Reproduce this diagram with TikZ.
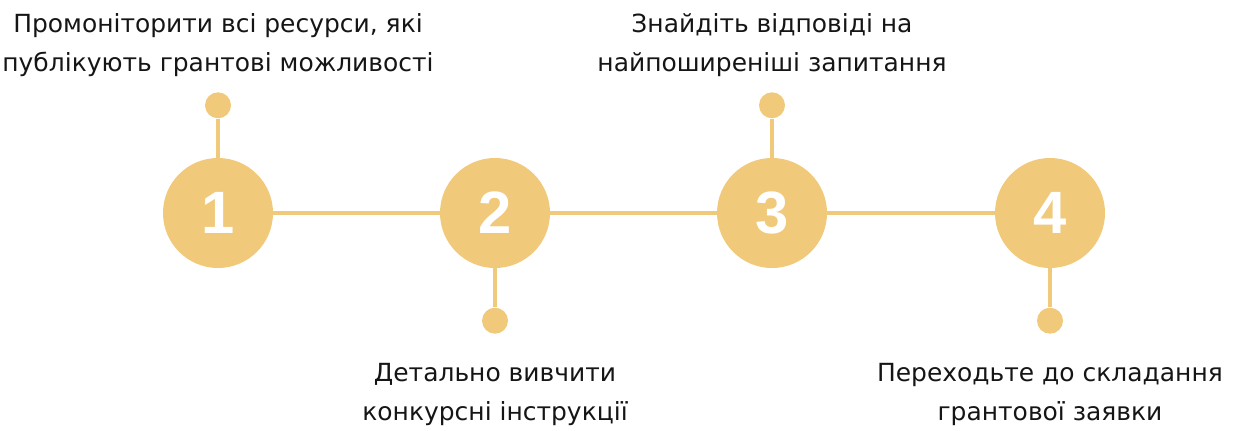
\documentclass[tikz,border=0pt]{standalone}
\usepackage{fontspec}
\setmainfont{DejaVu Sans}
\newfontfamily\numfont{Liberation Sans}
\usepackage{xcolor}
\usepackage{tikz}
\usetikzlibrary{positioning}
\definecolor{goldfill}{HTML}{F1C97B}
\definecolor{inktext}{HTML}{151515}

\begin{document}
\begin{tikzpicture}[
  stepnum/.style={circle,fill=goldfill,minimum size=2.2cm,inner sep=0pt,text=white,font=\numfont\fontsize{34}{34}\selectfont\bfseries},
  pin/.style={circle,fill=goldfill,minimum size=0.52cm,inner sep=0pt},
  caption/.style={align=center,text=inktext,font=\fontsize{14.2}{22.1}\selectfont,inner sep=0pt},
  link/.style={draw=goldfill,line width=2.3pt},
  node distance=0.78cm
]
\useasboundingbox (0,4.26) rectangle (24.8,-4.34);
\node[stepnum] (s1) at (4.36,0) {1};
\node[stepnum] (s2) at (9.90,0) {2};
\node[stepnum] (s3) at (15.44,0) {3};
\node[stepnum] (s4) at (21.0,0) {4};
\node[pin,above=of s1] (d1) {};
\node[pin,below=of s2] (d2) {};
\node[pin,above=of s3] (d3) {};
\node[pin,below=of s4] (d4) {};
\node[caption,above=0.30cm of d1] (t1) {Промоніторити всі ресурси, які\\публікують грантові можливості};
\node[caption,below=0.58cm of d2] (t2) {Детально вивчити\\конкурсні інструкції};
\node[caption,above=0.30cm of d3] (t3) {Знайдіть відповіді на\\найпоширеніші запитання};
\node[caption,below=0.58cm of d4] (t4) {Переходьте до складання\\грантової заявки};
\draw[link] (s1)--(s2); \draw[link] (s2)--(s3); \draw[link] (s3)--(s4);
\draw[link] (s1)--(d1); \draw[link] (s2)--(d2); \draw[link] (s3)--(d3); \draw[link] (s4)--(d4);
\end{tikzpicture}
\end{document}
